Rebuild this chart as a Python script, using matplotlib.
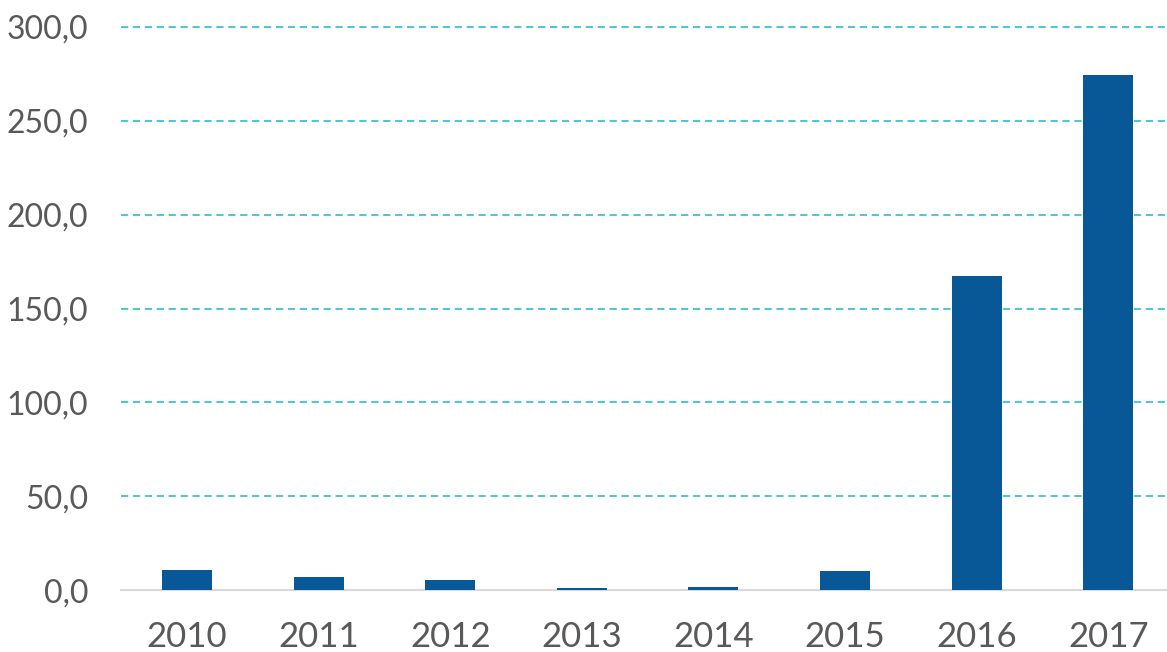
import matplotlib.pyplot as plt
from matplotlib.ticker import FuncFormatter

anos = ['2010', '2011', '2012', '2013', '2014', '2015', '2016', '2017']
valores = [10.5, 7.1, 5.2, 1.1, 1.6, 10.1, 167.3, 274.4]

plt.rcParams['font.family'] = ['Lato', 'DejaVu Sans']

fig = plt.figure(figsize=(11.67, 6.52), dpi=100)
ax = fig.add_axes([0.104, 0.095, 0.902, 0.8636])

x = range(len(anos))
ax.bar(x, valores, width=0.38, color='#085797', zorder=3)

ax.set_ylim(0, 300)
ax.set_xlim(-0.5, len(anos) - 0.5)
ax.set_yticks(range(0, 301, 50))
ax.yaxis.set_major_formatter(FuncFormatter(lambda v, p: f'{v:.1f}'.replace('.', ',')))
ax.set_xticks(list(x))
ax.set_xticklabels(anos)

ax.yaxis.grid(True, color='#3CC3D6', linestyle=(0, (4, 2.6)), linewidth=1.3)
for linha in ax.get_ygridlines():
    linha.set_clip_on(False)
ax.set_axisbelow(True)
for s in ['top', 'right', 'left']:
    ax.spines[s].set_visible(False)
ax.spines['bottom'].set_color('#D9D9D9')
ax.spines['bottom'].set_linewidth(1.5)

ax.tick_params(axis='y', length=0, labelsize=23, colors='#595959', pad=24)
ax.tick_params(axis='x', length=0, labelsize=25, colors='#595959', pad=22)

fig.savefig('out.png', dpi=100)
